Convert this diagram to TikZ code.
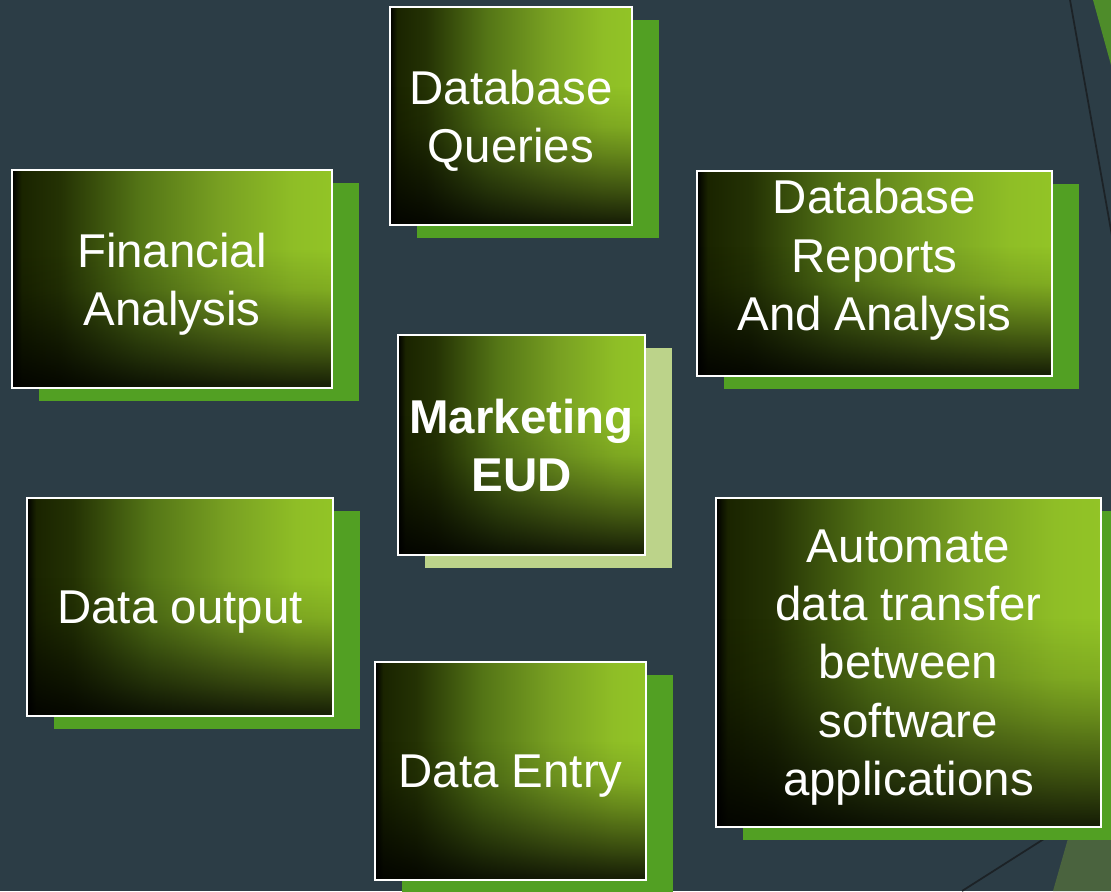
\documentclass[tikz,border=0pt]{standalone}
\usepackage{fontspec}
\setmainfont{Liberation Sans}
\usetikzlibrary{shadows,fadings}

\definecolor{slate}{RGB}{44,61,70}
\definecolor{tilegreen}{RGB}{146,196,38}
\definecolor{tileleaf}{RGB}{143,190,38}
\definecolor{tilemoss}{RGB}{120,160,34}
\definecolor{tileolive}{RGB}{84,117,22}
\definecolor{tilebark}{RGB}{36,50,4}
\definecolor{tilesoot}{RGB}{26,36,0}
\definecolor{leafgreen}{RGB}{82,160,35}
\definecolor{paleleaf}{RGB}{188,211,138}
\definecolor{facetline}{RGB}{28,34,38}
\definecolor{facetgreen}{RGB}{78,140,42}
\definecolor{facetolive}{RGB}{74,99,62}

% black on the left, green on the right
\pgfdeclarehorizontalshading{tileshade}{100bp}{color(0bp)=(black); color(25bp)=(black);
  color(26.5bp)=(tilesoot); color(32.5bp)=(tilebark); color(45bp)=(tileolive);
  color(57.5bp)=(tilemoss); color(69bp)=(tileleaf); color(75bp)=(tilegreen); color(100bp)=(tilegreen)}
% darkening towards the bottom edge
\pgfdeclareverticalshading{tiledarkshade}{100bp}{color(0bp)=(pgftransparent!8); color(25bp)=(pgftransparent!8);
  color(29bp)=(pgftransparent!18); color(35bp)=(pgftransparent!42); color(42.5bp)=(pgftransparent!70);
  color(48bp)=(pgftransparent!88); color(56bp)=(pgftransparent!100); color(100bp)=(pgftransparent!100)}
\pgfdeclarefading{tiledark}{\tikz \shade[shading=tiledarkshade] (0,0) rectangle (2,2);}

\begin{document}
\begin{tikzpicture}[x=0.1mm, y=0.1mm]
    \tikzset{
      tile/.style={draw=white, line width=0.7pt, text=white, align=center,
        inner sep=0pt, text depth=0pt, font=\fontsize{13.5}{16.6}\selectfont,
        path picture={
          \shade[shading=tileshade]
            (path picture bounding box.south west) rectangle (path picture bounding box.north east);
          \fill[black, path fading=tiledark]
            (path picture bounding box.south west) rectangle (path picture bounding box.north east);
        },
        drop shadow={shadow xshift=2.7mm, shadow yshift=-1.3mm, fill=#1, opacity=1}},
      tile/.default=leafgreen,
      tilesize/.style 2 args={minimum width=#1, minimum height=#2}
    }
    \useasboundingbox (0,0) rectangle (1111,891);
    \clip (0,0) rectangle (1111,891);
    \fill [slate] (0,0) rectangle (1111,891);
    % facet strokes in the corners
    \fill [facetgreen] (1093,891) -- (1111,891) -- (1111,826) -- cycle;
    \draw [facetline, line width=0.5pt] (1070,891) -- (1120,610);
    \fill [facetolive] (1053,0) -- (1079,91) -- (1111,91) -- (1111,0) -- cycle;
    \draw [facetline, line width=0.5pt] (962,0) -- (1080,75);
    \node [tile, tilesize={24.2mm}{21.8mm}] (queries) at (511,775) {Database\\Queries};
    \node [tile, tilesize={32mm}{21.8mm}] (finance) at (172,612) {Financial\\Analysis};
    \node [tile, tilesize={35.5mm}{20.5mm}, text depth=10.5pt] (reports) at (874.5,617.5) {Database\\Reports\\And Analysis};
    \node [tile=paleleaf, tilesize={24.7mm}{22mm}, font=\fontsize{13.5}{16.6}\selectfont\bfseries] (eud) at (521.5,446) {Marketing\\EUD};
    \node [tile, tilesize={30.6mm}{21.8mm}] (output) at (180,284) {Data output};
    \node [tile, tilesize={27.1mm}{21.8mm}] (entry) at (510.5,120) {Data Entry};
    \node [tile, tilesize={38.5mm}{32.9mm}] (transfer) at (908.5,228.5) {Automate\\data transfer\\between\\software\\applications};
\end{tikzpicture}
\end{document}
